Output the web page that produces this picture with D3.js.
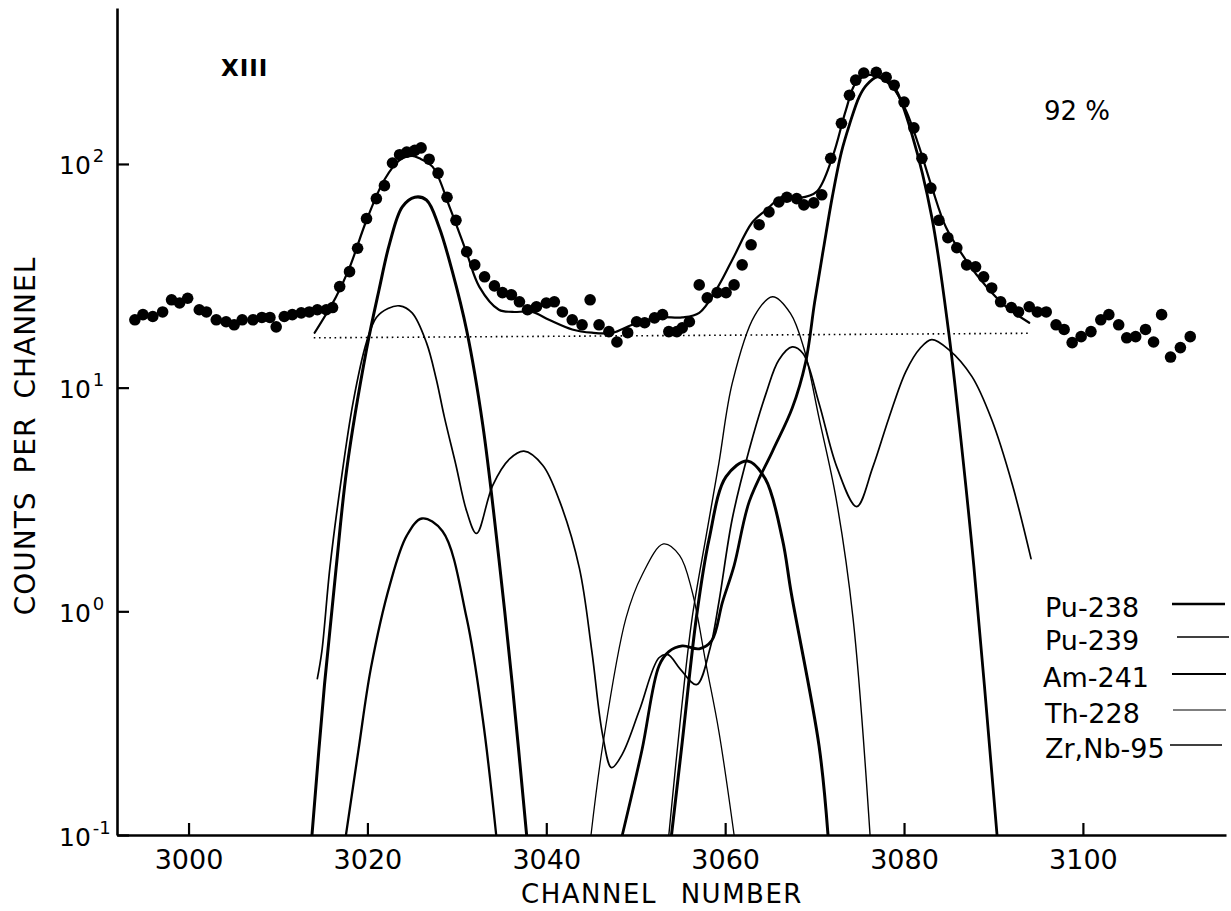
<!DOCTYPE html>
<html><head><meta charset="utf-8">
<script src="https://cdn.jsdelivr.net/npm/d3@7"></script>
<style>
html,body{margin:0;padding:0;background:#fff;}
svg{display:block;}
text{font-family:"DejaVu Sans",sans-serif;fill:#000;}
</style></head>
<body>
<svg id="chart" width="1231" height="911"></svg>
<script>
// ---------- DATA ----------
const xTicks = [3000, 3020, 3040, 3060, 3080, 3100];
const yTicks = [0.1, 1, 10, 100];
const yTickExp = ["-1", "0", "1", "2"];

const dotChannel = [2994.0,2994.9,2996.0,2997.1,2998.1,2999.0,2999.9,3001.2,3002.0,3003.1,3004.2,3005.1,3006.0,3007.2,3008.2,3009.1,3009.8,3010.7,3011.6,3012.6,3013.5,3014.4,3015.4,3016.1,3016.9,3018.0,3018.9,3019.9,3021.0,3021.9,3022.8,3023.6,3024.4,3025.3,3026.0,3026.9,3027.9,3028.9,3029.9,3031.1,3032.0,3033.1,3034.2,3035.1,3036.1,3037.0,3037.9,3038.9,3040.0,3040.9,3041.8,3042.9,3044.0,3044.9,3045.9,3047.0,3047.9,3049.1,3050.1,3051.0,3052.1,3053.0,3053.7,3054.6,3055.2,3056.0,3057.1,3058.0,3059.1,3060.1,3061.0,3061.9,3062.9,3063.8,3064.9,3066.0,3066.9,3068.0,3068.8,3069.9,3070.8,3071.8,3073.0,3073.9,3074.6,3075.5,3076.9,3078.0,3078.9,3080.0,3081.1,3082.0,3083.0,3083.9,3084.9,3085.9,3087.0,3088.0,3088.9,3089.8,3090.8,3092.0,3092.8,3094.0,3094.9,3095.9,3097.0,3097.9,3098.8,3099.8,3100.9,3102.0,3102.9,3104.0,3104.9,3105.9,3107.0,3107.9,3108.8,3109.8,3110.9,3112.0];
const dotCounts = [20.1,21.2,20.8,21.8,24.7,23.9,25.1,22.3,21.8,20.1,19.7,19.1,20.1,20.1,20.6,20.6,18.7,20.8,21.2,21.6,21.8,22.3,22.3,22.8,28.3,33,42,57,70,80,101,110,113,115,118,105,91,71,56,40.5,35.4,31.3,28.5,26.6,26,24.2,22.3,23,23.9,24.2,21.8,20.1,19.1,24.7,19.1,17.8,16,17.6,19.7,19.5,20.5,21.2,17.8,17.8,18.5,19.7,28.8,25.2,26.6,26.6,28.8,35.4,43.5,53.5,61,67.6,71,70,65.6,67,72.8,106,152,203,237,255,257,244,225,189,145,106,78,56,46.8,42.2,35.4,34.7,31.3,27.9,24.2,22.8,21.8,23,21.8,21.8,19.1,18.2,15.9,16.9,17.8,20.1,21.2,19.1,16.7,16.9,18.2,16,21.2,13.7,15.1,16.9];

// total fit through the points
const fitCurve = [[3014.1,17.6],[3016.5,25.5],[3018.0,34.4],[3019.9,56],[3021.9,85],[3023.6,104],[3025.0,108.6],[3025.8,106],[3027.3,97],[3029.2,64],[3031.1,40],[3032.5,28.3],[3034.7,22.3],[3036.2,21.8],[3038.4,21.8],[3040.3,20.1],[3042.9,18.2],[3045.1,17.6],[3047.4,17.6],[3049.6,19.1],[3052.6,20.6],[3055.2,20.6],[3057.1,21.6],[3059.0,27.4],[3060.8,37.3],[3063.0,54.6],[3064.6,62.4],[3066.4,71.3],[3068.3,70.5],[3070.2,75],[3072.0,107.5],[3073.5,174],[3074.6,230],[3076.1,250],[3077.2,244],[3078.7,221],[3080.2,174],[3081.7,119],[3083.1,79],[3084.7,52],[3086.9,37.3],[3089.2,28.3],[3091.4,23],[3094.0,19.5]];

// dotted background level
const backgroundLine = [[3014,16.7],[3094,17.5]];

// component curves
const peakA = [[3013.8,0.1],[3015.2,0.47],[3016.5,1.56],[3017.7,4.35],[3019.9,14.8],[3021.3,27.4],[3022.5,44.4],[3023.9,64.3],[3025.3,71],[3026.6,69],[3028,52.4],[3029.5,33],[3031.1,18],[3032.9,6.8],[3034.7,1.72],[3036.2,0.47],[3037.8,0.1]];
const peakB = [[3017.6,0.1],[3019,0.24],[3020.4,0.56],[3022.5,1.31],[3024.4,2.18],[3026.1,2.6],[3028.4,2.28],[3031.1,0.93],[3032.9,0.33],[3034.4,0.1]];
const multiC = [[3014.4,0.5],[3014.9,0.66],[3015.8,1.56],[3017.0,3.7],[3018.4,8.6],[3019.9,16.0],[3021.0,20.6],[3022.3,22.6],[3023.6,23.2],[3025.0,21.6],[3026.6,15.9],[3027.7,10.9],[3028.6,7.4],[3029.9,4.5],[3031.1,2.8],[3032.2,2.23],[3034.0,3.65],[3035.9,4.8],[3037.5,5.2],[3039.6,4.5],[3041.5,3.1],[3043.7,1.56],[3045.1,0.66],[3046.3,0.28],[3047.3,0.2],[3048.5,0.23],[3050.4,0.36],[3052.6,0.62],[3053.6,0.64],[3055.0,0.55],[3056.8,0.47],[3058.3,0.68],[3059.3,1.1],[3060.8,2.6],[3062.7,5.3],[3064.6,9.5],[3066.0,13.3],[3067.5,15.2],[3068.7,14.2],[3070.5,8.5],[3072.5,4.4],[3074.7,2.94],[3076.5,4.4],[3078.3,7.3],[3080.2,11.8],[3081.8,15],[3083.1,16.4],[3085.0,14.8],[3087.6,11.2],[3089.8,7.2],[3092.1,3.7],[3094.2,1.72]];
const peakD = [[3045.0,0.1],[3046.3,0.25],[3048.9,0.93],[3050.7,1.45],[3053.1,2.0],[3054.9,1.78],[3056.3,1.23],[3057.9,0.57],[3059.3,0.29],[3061.0,0.1]];
const peakE = [[3053.7,0.1],[3055.0,0.33],[3056.3,0.93],[3057.9,2.2],[3059.3,4.6],[3060.8,10.5],[3063.3,21],[3065.3,25.5],[3067.3,21.5],[3068.8,15],[3070.5,7.3],[3072.4,3.2],[3074.3,0.93],[3076.2,0.1]];
const peakF = [[3054.0,0.1],[3055.2,0.26],[3056.8,0.95],[3058.2,2.1],[3060.1,4.0],[3062.5,4.7],[3064.5,3.9],[3066.4,2.1],[3067.4,1.2],[3070.5,0.25],[3071.5,0.1]];
const peakG = [[3048.5,0.1],[3050.7,0.24],[3052.6,0.57],[3053.7,0.66],[3055.2,0.70],[3057.1,0.68],[3058.5,0.74],[3059.7,1.1],[3061.0,1.6],[3062.7,3.1],[3065.3,5.2],[3067.5,8.1],[3069.0,13],[3070.0,24],[3071.0,42],[3072.0,72],[3073.0,113],[3073.9,150],[3075.0,200],[3075.8,225],[3077.0,245],[3078.0,238],[3079.1,214],[3080.9,135],[3083.1,58],[3085.0,17.6],[3086.1,7.3],[3087.8,1.6],[3090.4,0.1]];

const legendNames = ["Pu-238", "Pu-239", "Am-241", "Th-228", "Zr,Nb-95"];

// ---------- DRAWING ----------
const svg = d3.select("#chart");
const x = d3.scaleLinear().domain([2992, 3116]).range([117, 1226]);
const y = d3.scaleLog().domain([0.1, 498]).range([835, 8]);

svg.append("defs").append("clipPath").attr("id", "plot")
  .append("rect").attr("x", 117).attr("y", 0).attr("width", 1114).attr("height", 835);

// axes
const xAxis = d3.axisBottom(x).tickValues(xTicks).tickSizeInner(-12).tickSizeOuter(0).tickPadding(15).tickFormat(d3.format("d"));
const gx = svg.append("g").attr("transform", `translate(0,${y(0.1)})`).call(xAxis);
gx.select(".domain").attr("stroke", "#000").attr("stroke-width", 2.6);
gx.selectAll(".tick line").attr("stroke", "#000").attr("stroke-width", 2.2);
gx.selectAll(".tick text").style("font-size", "27px").attr("fill", "#000");

const yAxis = d3.axisLeft(y).tickValues(yTicks).tickSizeInner(-12).tickSizeOuter(0).tickFormat(() => "");
const gy = svg.append("g").attr("transform", `translate(${x(2992)},0)`).call(yAxis);
gy.select(".domain").attr("stroke", "#000").attr("stroke-width", 2.6);
gy.selectAll(".tick line").attr("stroke", "#000").attr("stroke-width", 2.2);
gy.selectAll(".tick text").each(function(d, i) {
  const t = d3.select(this).attr("x", null).attr("dy", null).attr("text-anchor", "start")
    .attr("transform", `translate(${59 - x(2992)},10)`).style("font-size", "25px");
  t.append("tspan").text("10");
  t.append("tspan").attr("dy", -12).attr("dx", 2).style("font-size", "18px").text(yTickExp[yTicks.indexOf(d)]);
});

// axis titles
svg.append("text").attr("x", 662).attr("y", 903).attr("text-anchor", "middle")
  .style("font-size", "26px").style("letter-spacing", "1.5px").style("word-spacing", "14px").text("CHANNEL NUMBER");
svg.append("text").attr("transform", "translate(35,436) rotate(-90)").attr("text-anchor", "middle")
  .style("font-size", "28px").style("letter-spacing", "1px").style("word-spacing", "8px").text("COUNTS PER CHANNEL");

// annotations
svg.append("text").attr("x", 221).attr("y", 76).style("font-size", "23px").style("font-weight", "bold").style("letter-spacing", "1px").text("XIII");
svg.append("text").attr("x", 1044).attr("y", 120).style("font-size", "26px").text("92 %");

const plot = svg.append("g").attr("clip-path", "url(#plot)");
const line = d3.line().x(d => x(d[0])).y(d => y(d[1])).curve(d3.curveCatmullRom.alpha(0.5));

// background dotted line
plot.append("path").datum(backgroundLine).attr("d", d3.line().x(d => x(d[0])).y(d => y(d[1])))
  .attr("fill", "none").attr("stroke", "#000").attr("stroke-width", 1.6).attr("stroke-dasharray", "1.6,3.6");

const comps = [
  {d: peakA, w: 3.0},
  {d: peakB, w: 2.3},
  {d: multiC, w: 1.7},
  {d: peakD, w: 1.3},
  {d: peakE, w: 1.4},
  {d: peakF, w: 3.0},
  {d: peakG, w: 2.8}
];
comps.forEach(c => {
  plot.append("path").datum(c.d).attr("d", line).attr("fill", "none").attr("stroke", "#000")
    .attr("stroke-width", c.w).attr("stroke-linejoin", "round").attr("stroke-linecap", "round");
});

plot.append("path").datum(fitCurve).attr("d", line).attr("fill", "none").attr("stroke", "#000")
  .attr("stroke-width", 2.2).attr("stroke-linecap", "round");

// data points
plot.selectAll("circle.pt").data(dotChannel.map((c, i) => [c, dotCounts[i]])).enter()
  .append("circle").attr("class", "pt").attr("cx", d => x(d[0])).attr("cy", d => y(d[1])).attr("r", 5.8).attr("fill", "#000");

// legend
const legendY = [617, 650, 687, 723, 758];
const legendLineW = [2.3, 1.3, 1.8, 1.1, 1.4];
const legendLineX = [[1172, 1225], [1177, 1229], [1172, 1226], [1173, 1226], [1170, 1222]];
const lg = svg.append("g");
legendNames.forEach((n, i) => {
  lg.append("text").attr("x", i === 2 ? 1043 : 1045).attr("y", legendY[i]).style("font-size", "27px").text(n);
  lg.append("line").attr("x1", legendLineX[i][0]).attr("x2", legendLineX[i][1])
    .attr("y1", legendY[i] - 13).attr("y2", legendY[i] - 13)
    .attr("stroke", "#000").attr("stroke-width", legendLineW[i]);
});
</script>
</body></html>
